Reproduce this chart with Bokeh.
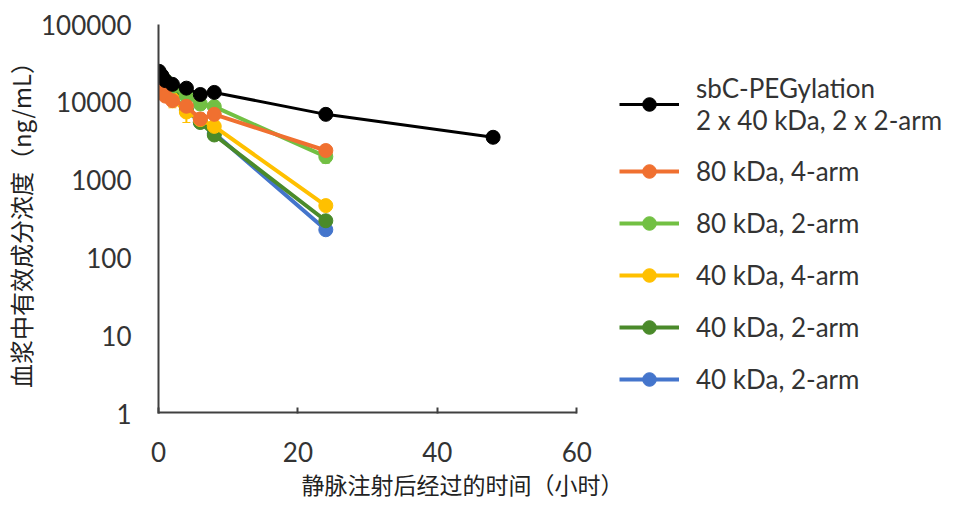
from bokeh.plotting import figure
from bokeh.models import (ColumnDataSource, Legend, LegendItem, FixedTicker,
                          PrintfTickFormatter, Title, Whisker, Range1d)
from bokeh.embed import file_html
from bokeh.resources import INLINE

# ---- data ----
times = [0.083, 0.5, 1, 2, 4, 6, 8, 24]
times_black = [0.083, 0.5, 1, 2, 4, 6, 8, 24, 48]

black_vals = [25000, 22000, 19000, 17000, 15200, 12600, 13400, 7000, 3550]
black_err = [2000, 1500, 1500, 1200, 1500, 1200, 1000, 600, 300]

orange_vals = [16000, 13500, 12000, 10500, 8900, 6100, 7000, 2400]
orange_err = [2500, 2000, 1500, 1500, 1500, 1200, 1000, 300]

lgreen_vals = [22000, 20000, 19000, 16000, 12000, 9500, 8800, 2000]
lgreen_err = [3000, 5000, 3000, 2500, 3000, 1500, 1500, 350]

yellow_vals = [18000, 15000, 13000, 11000, 7500, 6000, 4900, 470]
yellow_err = [2500, 2000, 2500, 2500, 2000, 1000, 800, 60]

dgreen_vals = [20000, 17000, 15000, 12000, 8000, 5500, 3800, 300]
dgreen_err = [2000, 2000, 1500, 1500, 1000, 700, 400, 40]

blue_vals = [19000, 16000, 14000, 11500, 7800, 5600, 4000, 230]
blue_err = [2000, 1500, 1500, 1200, 1000, 600, 400, 30]

names = ["sbC-PEGylation\n2 x 40 kDa, 2 x 2-arm", "80 kDa, 4-arm", "80 kDa, 2-arm",
         "40 kDa, 4-arm", "40 kDa, 2-arm", "40 kDa, 2-arm"]
colors = ["#000000", "#F07030", "#72C043", "#FFC000", "#4A8A2A", "#4475CC"]

y_ticks = [1, 10, 100, 1000, 10000, 100000]
x_ticks = [0, 20, 40, 60]

x_label = "静脉注射后经过的时间（小时）"
y_label = "血浆中有效成分浓度（ng/mL）"

# frame spans to the right edge so the legend sits inside it;
# 60 h correspond to 422 px of the 793 px wide frame
x_end = 60 * 793 / 422

# ---- figure ----
p = figure(width=944, height=505, y_axis_type="log",
           x_range=Range1d(0, x_end), y_range=Range1d(1, 100000),
           output_backend="svg", toolbar_location=None,
           min_border_left=151, min_border_right=0,
           min_border_top=24, min_border_bottom=92)
p.outline_line_color = None
p.xgrid.visible = False
p.ygrid.visible = False

series = [
    (times_black, black_vals, black_err, colors[0], 3),
    (times, orange_vals, orange_err, colors[1], 4),
    (times, lgreen_vals, lgreen_err, colors[2], 4),
    (times, yellow_vals, yellow_err, colors[3], 4),
    (times, dgreen_vals, dgreen_err, colors[4], 4),
    (times, blue_vals, blue_err, colors[5], 4),
]

# x axis line only from first to last tick
p.segment(x0=[x_ticks[0]], x1=[x_ticks[-1]], y0=[y_ticks[0]], y1=[y_ticks[0]],
          line_color="#404040", line_width=4)

renderers = [None] * len(series)
for idx in reversed(range(len(series))):
    t, v, e, c, lw = series[idx]
    src = ColumnDataSource(dict(x=t, y=v,
                                lo=[a - b for a, b in zip(v, e)],
                                hi=[a + b for a, b in zip(v, e)]))
    w = Whisker(base="x", lower="lo", upper="hi", source=src,
                line_color=c, line_width=2)
    w.upper_head.line_color = c
    w.lower_head.line_color = c
    w.upper_head.size = 8
    w.lower_head.size = 8
    p.add_layout(w)
    r1 = p.line("x", "y", source=src, line_color=c, line_width=lw)
    r2 = p.scatter("x", "y", source=src, size=14, fill_color=c, line_color=c)
    renderers[idx] = [r1, r2]

# ---- axes ----
font = "Lato"
p.xaxis.ticker = FixedTicker(ticks=x_ticks)
p.yaxis.ticker = FixedTicker(ticks=y_ticks, minor_ticks=[])
p.yaxis.formatter = PrintfTickFormatter(format="%d")
for ax in (p.xaxis[0], p.yaxis[0]):
    ax.axis_line_color = "#404040"
    ax.axis_line_width = 2
    ax.major_tick_line_color = "#404040"
    ax.major_tick_line_width = 2
    ax.minor_tick_line_color = None
    ax.major_label_text_font = font
    ax.major_label_text_font_size = "26px"
    ax.major_label_text_color = "#333333"
p.xaxis.axis_line_color = None
p.xaxis.major_tick_in = 6
p.xaxis.major_tick_out = 0
p.yaxis.major_tick_in = 0
p.yaxis.major_tick_out = 0
p.xaxis.major_label_standoff = 28
p.yaxis.major_label_standoff = 27

p.yaxis.axis_label = y_label
p.yaxis.axis_label_text_font = "Noto Sans CJK SC"
p.yaxis.axis_label_text_font_size = "24px"
p.yaxis.axis_label_text_font_style = "normal"
p.yaxis.axis_label_text_color = "#222222"
p.yaxis.axis_label_standoff = 0

xt = Title(text=x_label, align="left", offset=143, standoff=0,
           text_font="Noto Sans CJK SC", text_font_size="23px",
           text_font_style="normal", text_color="#222222")
p.add_layout(xt, "below")

# ---- legend ----
leg = Legend(items=[LegendItem(label=names[i], renderers=renderers[i])
                    for i in range(6)],
             location=(461, 17), spacing=18)
leg.label_text_font = font
leg.label_text_font_size = "26px"
leg.label_text_color = "#333333"
leg.glyph_width = 60
leg.glyph_height = 34
leg.label_height = 34
leg.label_standoff = 17
leg.padding = 0
leg.margin = 0
leg.border_line_color = None
leg.background_fill_alpha = 0
p.add_layout(leg)

open("out.html", "w").write(file_html(p, INLINE))
